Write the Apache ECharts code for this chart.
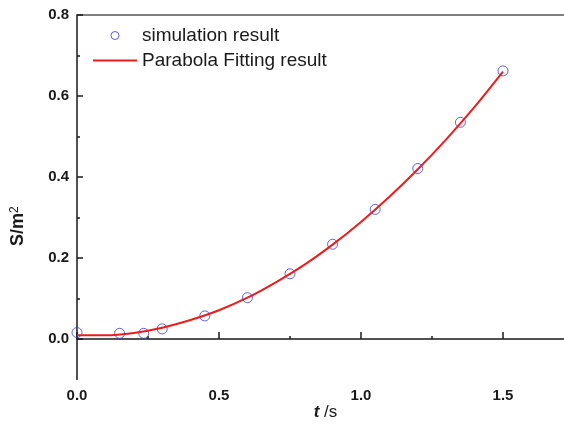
<!DOCTYPE html>
<html>
<head>
<meta charset="utf-8">
<script src="https://cdn.jsdelivr.net/npm/echarts@6/dist/echarts.min.js"></script>
<style>
html,body{margin:0;padding:0;background:#fff;}
#chart{width:564px;height:425px;}
</style>
</head>
<body>
<div id="chart"></div>
<script>
// simulation result (scatter)
var simT = [0, 0.15, 0.235, 0.30, 0.45, 0.60, 0.75, 0.90, 1.05, 1.20, 1.35, 1.50];
var simS = [0.016, 0.014, 0.014, 0.025, 0.057, 0.102, 0.161, 0.234, 0.320, 0.421, 0.535, 0.662];
// parabola fitting result (line)
var fitT = [0, 0.1, 0.2, 0.3, 0.4, 0.5, 0.6, 0.7, 0.8, 0.9, 1.0, 1.1, 1.2, 1.3, 1.4, 1.5];
var fitS = [0.009, 0.009, 0.015, 0.028, 0.047, 0.071, 0.102, 0.140, 0.183, 0.233, 0.289, 0.351, 0.419, 0.493, 0.573, 0.660];
// tick labels
var xMajor = [0, 0.5, 1.0, 1.5];
var xMinor = [0.25, 0.75, 1.25];
var yMajor = [0, 0.2, 0.4, 0.6, 0.8];
var yMinor = [0.1, 0.3, 0.5, 0.7];

var seriesNames = ['simulation result', 'Parabola Fitting result'];

function zip(a, b) { return a.map(function (v, i) { return [v, b[i]]; }); }

var axisColor = '#1a1a1a';
var labelStyle = { color: '#1a1a1a', fontFamily: 'Liberation Sans, Arial, sans-serif', fontWeight: 'bold', fontSize: 15 };

var chart = echarts.init(document.getElementById('chart'), null, { renderer: 'canvas' });
chart.setOption({
  animation: false,
  backgroundColor: '#fff',
  grid: { left: 77, top: 15, width: 497, height: 364.5, containLabel: false, outerBoundsMode: 'none' },
  legend: {
    orient: 'vertical',
    left: 93,
    top: 26,
    padding: 0,
    itemWidth: 44,
    itemHeight: 8,
    itemGap: 6,
    textStyle: { fontFamily: 'Liberation Sans, Arial, sans-serif', fontSize: 19, color: '#1a1a1a', lineHeight: 16 },
    data: [
      { name: seriesNames[0], itemStyle: { borderWidth: 1 } },
      { name: seriesNames[1], icon: 'path://M0,0H45V2H0Z', itemStyle: { color: '#ec1c1c' } }
    ]
  },
  xAxis: [
    {
      type: 'value', min: 0, max: 1.75, position: 'bottom',
      splitLine: { show: false },
      axisLine: { show: true, lineStyle: { color: axisColor, width: 1.5 } },
      axisTick: { show: true, inside: true, length: 7, customValues: xMajor, lineStyle: { color: axisColor, width: 1.5 } },
      axisLabel: Object.assign({ customValues: xMajor, margin: 9, formatter: function (v) { return v.toFixed(1); } }, labelStyle),
      name: '{b|t} /s',
      nameLocation: 'middle',
      nameGap: 24,
      nameMoveOverlap: false,
      nameTextStyle: {
        fontFamily: 'Liberation Sans, Arial, sans-serif', fontSize: 17, color: '#1a1a1a',
        rich: { b: { fontFamily: 'Liberation Sans, Arial, sans-serif', fontSize: 17, fontWeight: 'bold', fontStyle: 'italic', color: '#1a1a1a' } }
      }
    },
    {
      type: 'value', min: 0, max: 1.75, position: 'bottom',
      splitLine: { show: false },
      axisLine: { show: false },
      axisTick: { show: true, inside: true, length: 3, customValues: xMinor, lineStyle: { color: axisColor, width: 1.5 } },
      axisLabel: { show: false }
    },
    {
      type: 'value', min: 0, max: 1.75, position: 'top',
      splitLine: { show: false },
      axisLine: { show: true, lineStyle: { color: '#555', width: 1.5 } },
      axisTick: { show: false },
      axisLabel: { show: false }
    }
  ],
  yAxis: [
    {
      type: 'value', min: -0.1, max: 0.8, position: 'left',
      splitLine: { show: false },
      axisLine: { show: true, lineStyle: { color: axisColor, width: 1.5 } },
      axisTick: { show: true, inside: true, length: 6, customValues: yMajor, lineStyle: { color: axisColor, width: 1.5 } },
      axisLabel: Object.assign({ customValues: yMajor, margin: 8, formatter: function (v) { return v.toFixed(1); } }, labelStyle),
      name: '{a|S/m}{s|2}',
      nameLocation: 'middle',
      nameRotate: 90,
      nameGap: 50,
      nameMoveOverlap: false,
      nameTextStyle: {
        padding: [0, 58, 0, 0],
        rich: {
          a: { fontFamily: 'Liberation Sans, Arial, sans-serif', fontSize: 18, fontWeight: 'bold', color: '#1a1a1a' },
          s: { fontFamily: 'Liberation Sans, Arial, sans-serif', fontSize: 12, color: '#1a1a1a', verticalAlign: 'top' }
        }
      }
    },
    {
      type: 'value', min: -0.1, max: 0.8, position: 'left',
      splitLine: { show: false },
      axisLine: { show: false },
      axisTick: { show: true, inside: true, length: 3, customValues: yMinor, lineStyle: { color: axisColor, width: 1.5 } },
      axisLabel: { show: false }
    }
  ],
  series: [
    {
      name: seriesNames[0],
      type: 'scatter',
      xAxisIndex: 0, yAxisIndex: 0,
      symbol: 'circle',
      symbolSize: 10,
      itemStyle: { color: 'rgba(0,0,0,0)', borderColor: '#3b3bd9', borderWidth: 1 },
      data: zip(simT, simS),
      z: 2
    },
    {
      name: seriesNames[1],
      type: 'line',
      xAxisIndex: 0, yAxisIndex: 0,
      smooth: 0.3,
      symbol: 'none',
      lineStyle: { color: '#ec1c1c', width: 2 },
      itemStyle: { color: '#ec1c1c' },
      data: zip(fitT, fitS),
      z: 3
    }
  ]
});
</script>
</body>
</html>
